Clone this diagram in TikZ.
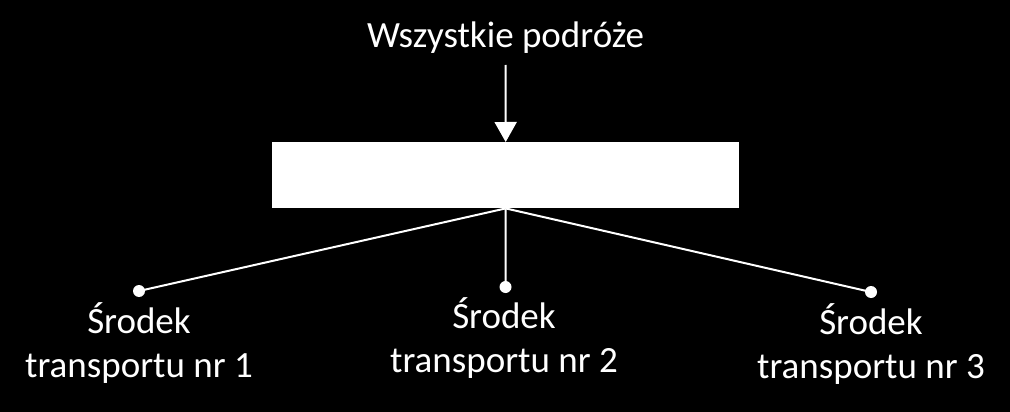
\documentclass[tikz,border=0pt]{standalone}
\usepackage{fontspec}
\setmainfont{Carlito}
\usetikzlibrary{arrows.meta,positioning}

\tikzset{
  etykieta/.style={text=white, font=\fontsize{37}{44}\selectfont, align=center},
  kropka/.style={circle, fill=white, inner sep=0pt, minimum size=12pt},
  linia/.style={draw=white, line width=2pt}
}

\begin{document}
\begin{tikzpicture}[x=1pt,y=-1pt]
\fill[black] (0,0) rectangle (1010,412);
\useasboundingbox (0,0) rectangle (1010,412);
% tekst u gory i pole
\node[etykieta, anchor=base, inner sep=0pt] (wszystkie) at (505.5,48) {Wszystkie podróże};
\node[fill=white, minimum width=467pt, minimum height=66pt, inner sep=0pt, anchor=north west] (pole) at (272,142) {};
\coordinate (start) at (505.5,65);
\draw[linia, -{Triangle[width=22pt,length=20pt]}] (start) -- (pole.north);
% kropki
\node[kropka] (s1) at (139,291) {};
\node[kropka] (s2) at (505.5,287) {};
\node[kropka] (s3) at (871,292) {};
\draw[linia] (pole.south) -- (s1.center);
\draw[linia] (pole.south) -- (s2.center);
\draw[linia] (pole.south) -- (s3.center);
% podpisy
\node[etykieta, anchor=base, inner sep=0pt] (l1) at (139,377) {Środek\\transportu nr 1};
\node[etykieta, anchor=base, inner sep=0pt] (l2) at (504,372) {Środek\\transportu nr 2};
\node[etykieta, anchor=base, inner sep=0pt] (l3) at (871,378) {Środek\\transportu nr 3};
\end{tikzpicture}
\end{document}
